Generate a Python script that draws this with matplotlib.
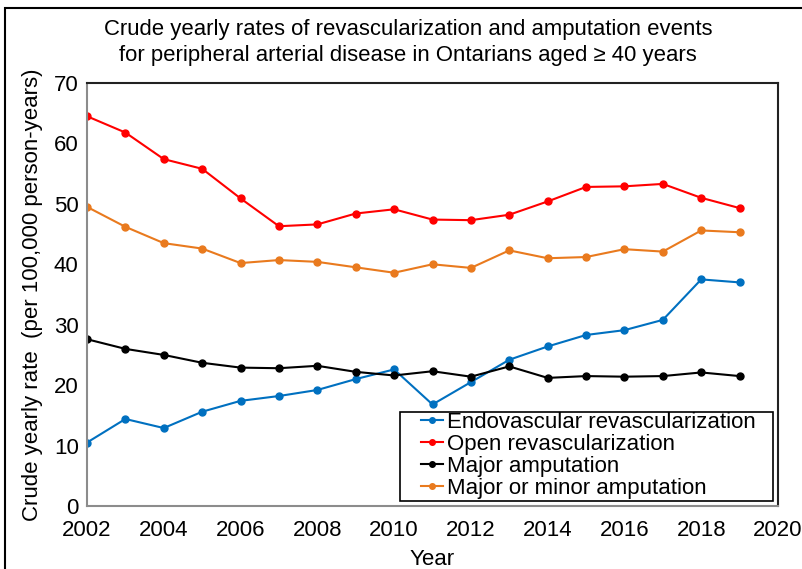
import matplotlib
matplotlib.use("Agg")
import matplotlib.pyplot as plt
from matplotlib.patches import Rectangle

plt.rcParams['font.family'] = ['Liberation Sans', 'DejaVu Sans']

years = list(range(2002, 2020))
endovascular = [10.5, 14.4, 12.9, 15.6, 17.4, 18.2, 19.2, 21.0, 22.6, 16.8,
                20.5, 24.2, 26.4, 28.3, 29.1, 30.8, 37.5, 37.0]
open_revasc = [64.5, 61.8, 57.4, 55.8, 50.9, 46.3, 46.6, 48.4, 49.1, 47.4,
               47.3, 48.2, 50.4, 52.8, 52.9, 53.3, 51.0, 49.3]
major_amp = [27.6, 26.0, 25.0, 23.7, 22.9, 22.8, 23.2, 22.2, 21.6, 22.3,
             21.4, 23.1, 21.2, 21.5, 21.4, 21.5, 22.1, 21.5]
major_minor_amp = [49.5, 46.2, 43.5, 42.6, 40.2, 40.7, 40.4, 39.5, 38.6, 40.0,
                   39.4, 42.3, 41.0, 41.2, 42.5, 42.1, 45.6, 45.3]

series = [
    ("Endovascular revascularization", endovascular, "#0070C0"),
    ("Open revascularization", open_revasc, "#FF0000"),
    ("Major amputation", major_amp, "#000000"),
    ("Major or minor amputation", major_minor_amp, "#E97A1E"),
]

fig = plt.figure(figsize=(8.03, 5.69), dpi=100)
ax = fig.add_axes([87/803, 63/569, 691/803, 423/569])

for name, vals, col in series:
    ax.plot(years, vals, color=col, lw=1.5, marker="o", markersize=5, label=name)

ax.set_xlim(2002, 2020)
ax.set_ylim(0, 70)
ax.set_xticks(range(2002, 2021, 2))
ax.set_yticks(range(0, 71, 10))
ax.tick_params(length=0, labelsize=16)
ax.tick_params(axis="x", pad=10)
ax.tick_params(axis="y", pad=6)

for s in ["left", "bottom"]:
    ax.spines[s].set_color("#8c8c8c")
    ax.spines[s].set_linewidth(1.5)
for s in ["top", "right"]:
    ax.spines[s].set_color("#222222")
    ax.spines[s].set_linewidth(1.5)

ax.set_xlabel("Year", fontsize=16, labelpad=6)
ax.set_ylabel("Crude yearly rate  (per 100,000 person-years)", fontsize=16, labelpad=8)

fig.text(0.508, 0.925, "Crude yearly rates of revascularization and amputation events\n"
         "for peripheral arterial disease in Ontarians aged \u2265 40 years",
         ha="center", va="center", fontsize=15.9, linespacing=1.3)

# legend without its own frame; box drawn separately to match the wider padding
leg = ax.legend(loc="upper left", bbox_to_anchor=(0.483, 0.222), fontsize=16,
                frameon=False, borderaxespad=0, borderpad=0,
                handlelength=1.0, handletextpad=0.2, labelspacing=0.04,
                markerscale=0.8)
ax.add_patch(Rectangle((0.453, 0.012), 0.540, 0.210, transform=ax.transAxes,
                       fill=False, edgecolor="black", lw=1.2, zorder=5))

# outer border of the chart area
fig.patches.append(Rectangle((5/803, -0.02), 1.0, (569 - 8)/569 + 0.02,
                             transform=fig.transFigure, fill=False,
                             edgecolor="black", lw=1.5))

fig.savefig("out.png", dpi=100)
